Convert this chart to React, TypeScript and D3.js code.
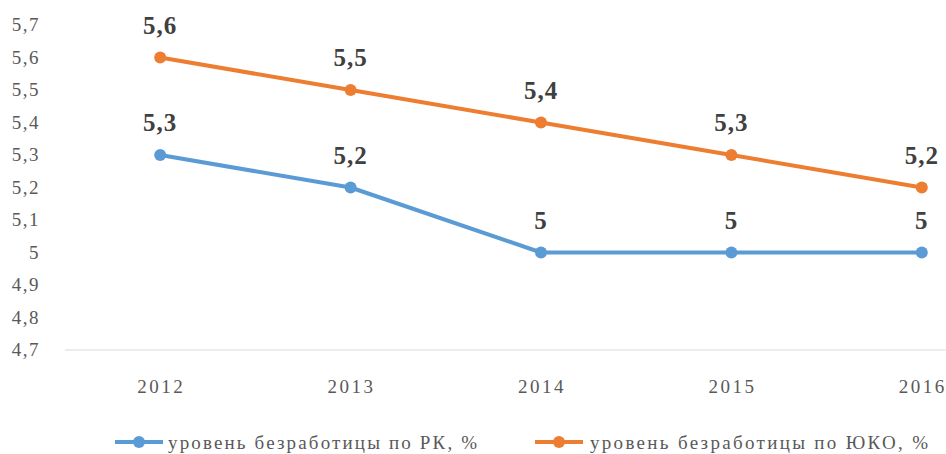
import React from "react";
import * as d3 from "d3";

const years = ["2012", "2013", "2014", "2015", "2016"];
const rkValues = [5.3, 5.2, 5.0, 5.0, 5.0];
const ukoValues = [5.6, 5.5, 5.4, 5.3, 5.2];
const yTicks = [4.7, 4.8, 4.9, 5.0, 5.1, 5.2, 5.3, 5.4, 5.5, 5.6, 5.7];
const seriesNames = ["уровень безработицы по РК, %", "уровень безработицы по ЮКО, %"];

const W = 946;
const H = 454;
const BLUE = "#5B9BD5";
const ORANGE = "#ED7D31";
const FONT = '"Liberation Serif", "Times New Roman", Times, serif';

const fmt = (v: number) => {
  const s = d3.format(".1~f")(v);
  return s.replace(".", ",");
};

export default function App() {
  const x = d3.scalePoint<string>().domain(years).range([65, 1017]).padding(0.5);
  const y = d3.scaleLinear().domain([4.7, 5.7]).range([350, 25]);
  const line = d3
    .line<number>()
    .x((_, i) => x(years[i]) as number)
    .y((d) => y(d));

  const series = [
    { name: seriesNames[0], values: rkValues, color: BLUE, legendX: 115, textX: 168, textLen: 309 },
    { name: seriesNames[1], values: ukoValues, color: ORANGE, legendX: 535, textX: 590, textLen: 338 },
  ];

  return (
    <svg
      width={W}
      height={H}
      style={{ position: "absolute", left: 0, top: 0, background: "#fff", fontFamily: FONT }}
    >
      {yTicks.map((t) => (
        <text
          key={t}
          x={40}
          y={y(t) + 6}
          textAnchor="end"
          style={{ fontFamily: FONT, fontSize: 19, letterSpacing: 1.5 }}
          fill="#595959"
        >
          {fmt(t)}
        </text>
      ))}
      <line x1={65} x2={W} y1={y(4.7)} y2={y(4.7)} stroke="#D9D9D9" strokeWidth={1.2} />
      {years.map((yr) => (
        <text
          key={yr}
          x={(x(yr) as number) + 1}
          y={393}
          textAnchor="middle"
          style={{ fontFamily: FONT, fontSize: 19, letterSpacing: 2.5 }}
          fill="#595959"
        >
          {yr}
        </text>
      ))}
      {series.map((s) => (
        <g key={s.name}>
          <path d={line(s.values) || ""} fill="none" stroke={s.color} strokeWidth={4} strokeLinejoin="round" />
          {s.values.map((v, i) => (
            <circle key={i} cx={x(years[i]) as number} cy={y(v)} r={6} fill={s.color} />
          ))}
          {s.values.map((v, i) => (
            <text
              key={"l" + i}
              x={x(years[i]) as number}
              y={y(v) - 24}
              textAnchor="middle"
              style={{ fontFamily: FONT, fontSize: 25, fontWeight: "bold", letterSpacing: 1 }}
              fill="#404040"
            >
              {fmt(v)}
            </text>
          ))}
        </g>
      ))}
      {series.map((s) => (
        <g key={"lg" + s.name}>
          <line x1={s.legendX} x2={s.legendX + 48} y1={442} y2={442} stroke={s.color} strokeWidth={4} />
          <circle cx={s.legendX + 24} cy={442} r={6} fill={s.color} />
          <text
            x={s.textX}
            y={449}
            style={{ fontFamily: FONT, fontSize: 19 }}
            fill="#595959"
            textLength={s.textLen}
            lengthAdjust="spacing"
          >
            {s.name}
          </text>
        </g>
      ))}
    </svg>
  );
}
